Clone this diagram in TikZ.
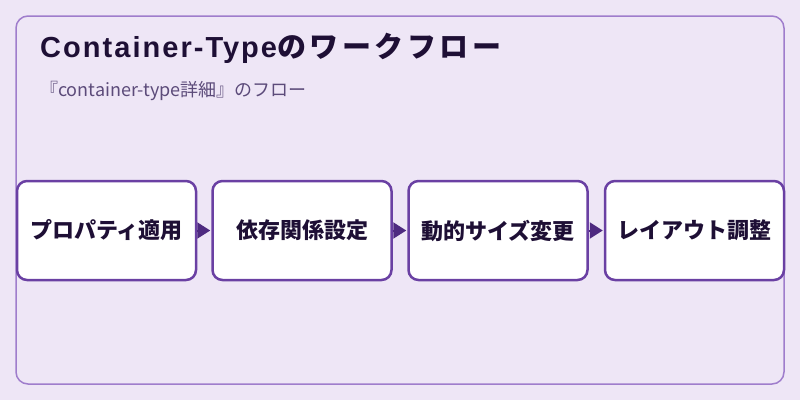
\documentclass[tikz,border=0pt]{standalone}
\usepackage{fontspec}
\setmainfont{Noto Sans CJK JP}
\newfontfamily\titlelatin[LetterSpace=7]{Liberation Sans}
\newfontfamily\titlecjk{Noto Sans CJK JP}
\usetikzlibrary{arrows.meta}
\definecolor{bgcol}{HTML}{EEE6F6}
\definecolor{framecol}{HTML}{9F7DCC}
\definecolor{boxcol}{HTML}{6A40A3}
\definecolor{tipcol}{HTML}{4E2A80}
\definecolor{titlecol}{HTML}{1E0F35}
\definecolor{subcol}{HTML}{5C4B7A}
\makeatletter
\newcommand\spreadtext[1]{\@tfor\sp@ch:=#1\do{\sp@ch\kern3.5pt}}
\makeatother
\begin{document}
\begin{tikzpicture}[x=1pt, y=-1pt,
            stepbox/.style={rectangle, rounded corners=10pt, draw=boxcol, fill=white, line width=2.5pt, minimum width=179pt, minimum height=99pt, font=\fontsize{22}{26}\selectfont\bfseries, text=titlecol},
            flow/.style={draw=tipcol, fill=tipcol, line width=2pt, -{Triangle[length=13pt, width=16pt]}, shorten >=1pt},
        ]
            %Background
            \useasboundingbox (0,0) rectangle (800,400);
            \fill[bgcol] (0,0) rectangle (800,400);
            \draw[framecol, line width=1.5pt, rounded corners=12pt] (16,16) rectangle (784,384);

            %Texts
            \node[anchor=base west, inner sep=0pt, text=titlecol, font=\fontsize{29}{34}\selectfont\bfseries] (title) at (40,57) {{\titlelatin Container-Type}{\titlecjk\spreadtext{のワークフロー}}};
            \node[anchor=base west, inner sep=0pt, text=subcol, font=\fontsize{18}{22}\selectfont] (subtitle) at (40,96) {『container-type詳細』のフロー};

            %Nodes
            \node[stepbox] (apply) at (106.5,230.5) {プロパティ適用};
            \node[stepbox] (depend) at (302,230.5) {依存関係設定};
            \node[stepbox] (resize) at (498,230.5) {動的サイズ変更};
            \node[stepbox] (layout) at (694.5,230.5) {レイアウト調整};

            %Lines
            \draw[flow] (apply) -- (depend);
            \draw[flow] (depend) -- (resize);
            \draw[flow] (resize) -- (layout);
        \end{tikzpicture}
\end{document}
